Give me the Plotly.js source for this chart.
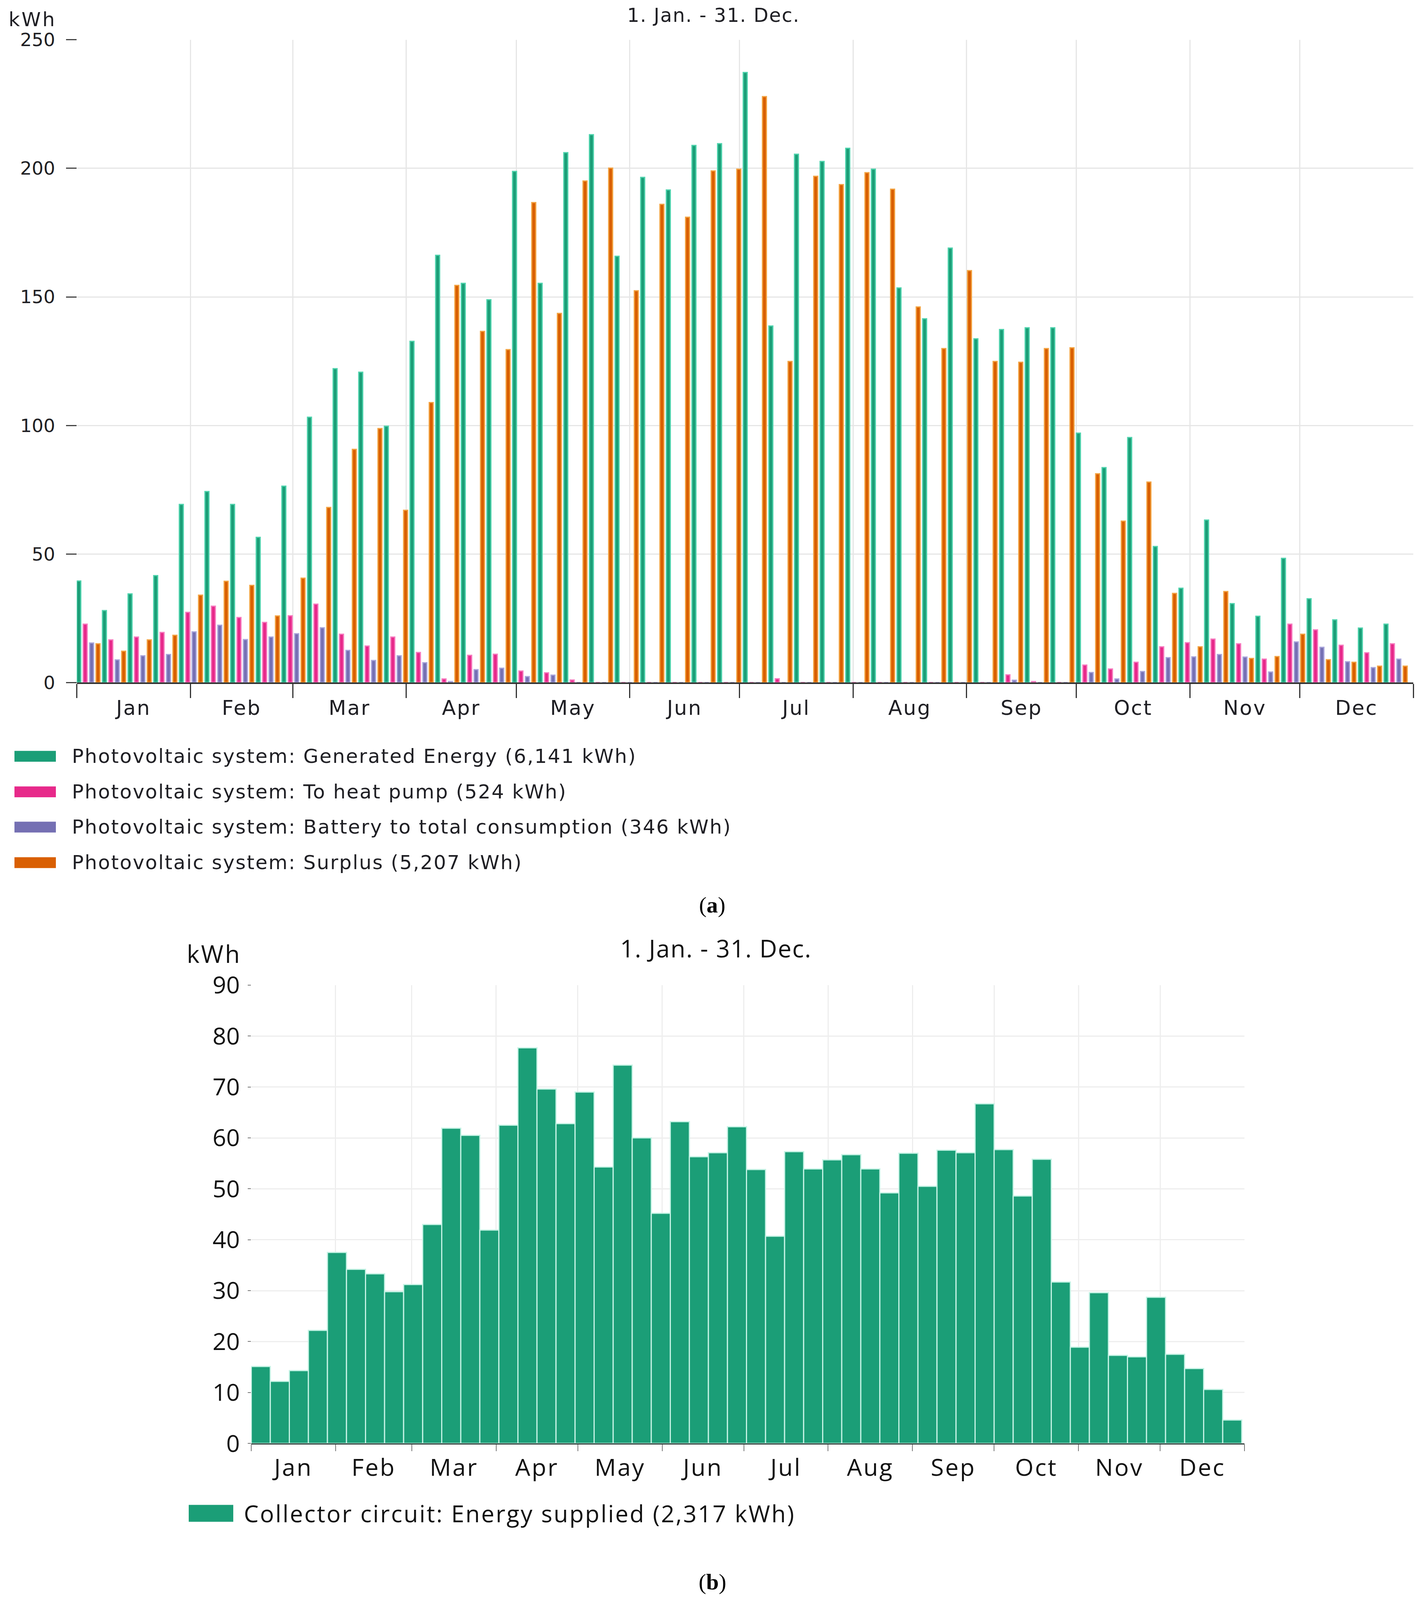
<!DOCTYPE html>
<html>
<head>
<meta charset="utf-8">
<script src="https://cdn.plot.ly/plotly-3.0.1.min.js"></script>
<style>
  html, body { margin: 0; padding: 0; background: #ffffff; overflow: hidden; }
  .xtick text { letter-spacing: 3px; }
  .x2tick text { letter-spacing: 3.5px; }
</style>
</head>
<body>
<div id="chart"></div>
<script>
// ---------------- DATA ----------------
const weekStarts = [
  '2018-01-01','2018-01-08','2018-01-15','2018-01-22','2018-01-29',
  '2018-02-05','2018-02-12','2018-02-19','2018-02-26',
  '2018-03-05','2018-03-12','2018-03-19','2018-03-26',
  '2018-04-02','2018-04-09','2018-04-16','2018-04-23','2018-04-30',
  '2018-05-07','2018-05-14','2018-05-21','2018-05-28',
  '2018-06-04','2018-06-11','2018-06-18','2018-06-25',
  '2018-07-02','2018-07-09','2018-07-16','2018-07-23','2018-07-30',
  '2018-08-06','2018-08-13','2018-08-20','2018-08-27',
  '2018-09-03','2018-09-10','2018-09-17','2018-09-24',
  '2018-10-01','2018-10-08','2018-10-15','2018-10-22','2018-10-29',
  '2018-11-05','2018-11-12','2018-11-19','2018-11-26',
  '2018-12-03','2018-12-10','2018-12-17','2018-12-24'
];

// (a) Photovoltaic system, weekly kWh
const generatedEnergy = [
  39.5, 28.0, 34.5, 41.6, 69.3, 74.3, 69.3, 56.5, 76.4, 103.2,
  122.1, 120.7, 99.7, 132.7, 166.2, 155.3, 148.9, 198.8, 155.3, 206.1,
  213.1, 165.8, 196.5, 191.6, 208.9, 209.6, 237.3, 138.7, 205.5, 202.7,
  207.8, 199.7, 153.5, 141.5, 169.0, 133.7, 137.3, 138.0, 138.0, 97.0,
  83.6, 95.3, 52.9, 36.7, 63.2, 30.7, 25.8, 48.3, 32.6, 24.4,
  21.2, 22.7
];
const toHeatPump = [
  22.7, 16.6, 17.7, 19.5, 27.3, 29.7, 25.3, 23.4, 26.0, 30.5,
  18.8, 14.2, 17.7, 11.7, 1.4, 10.6, 11.0, 4.5, 3.8, 1.0,
  0, 0, 0, 0, 0, 0, 0, 1.5, 0, 0,
  0, 0, 0, 0, 0, 0, 3.0, 0.4, 0, 6.8,
  5.3, 7.9, 13.9, 15.5, 16.9, 15.1, 9.1, 22.7, 20.5, 14.5,
  11.6, 15.1
];
const batteryToConsumption = [
  15.4, 8.8, 10.4, 10.9, 19.7, 22.3, 16.7, 17.7, 19.0, 21.3,
  12.5, 8.6, 10.4, 7.7, 0.4, 5.0, 5.6, 2.3, 2.9, 0,
  0, 0, 0, 0, 0, 0, 0, 0, 0, 0,
  0, 0, 0, 0, 0, 0, 0.9, 0, 0, 3.9,
  1.4, 4.3, 9.7, 10.0, 10.9, 9.9, 4.1, 15.8, 13.7, 8.1,
  5.8, 9.1
];
const surplus = [
  15.1, 12.2, 16.6, 18.4, 34.0, 39.4, 37.8, 25.9, 40.6, 68.1,
  90.7, 98.8, 67.0, 108.9, 154.5, 136.6, 129.5, 186.7, 143.6, 195.1,
  200.1, 152.4, 186.0, 181.0, 199.0, 199.7, 227.9, 124.9, 196.9, 193.7,
  198.3, 191.9, 146.1, 129.9, 160.2, 124.9, 124.6, 129.9, 130.2, 81.2,
  62.8, 78.0, 34.7, 13.9, 35.4, 9.4, 10.1, 18.8, 8.9, 7.9,
  6.4, 6.4
];

// (b) Collector circuit, weekly kWh
const collectorEnergy = [
  15.1, 12.2, 14.3, 22.2, 37.5, 34.2, 33.3, 29.8, 31.2, 43.0,
  61.9, 60.5, 41.9, 62.5, 77.7, 69.6, 62.8, 69.0, 54.3, 74.3,
  60.0, 45.2, 63.2, 56.3, 57.1, 62.2, 53.8, 40.7, 57.3, 53.9,
  55.7, 56.7, 53.9, 49.2, 57.0, 50.5, 57.6, 57.1, 66.7, 57.7,
  48.6, 55.8, 31.7, 18.9, 29.6, 17.3, 17.0, 28.7, 17.5, 14.7,
  10.6, 4.6
];

const seriesNamesA = [
  'Photovoltaic system: Generated Energy (6,141 kWh)',
  'Photovoltaic system: To heat pump (524 kWh)',
  'Photovoltaic system: Battery to total consumption (346 kWh)',
  'Photovoltaic system: Surplus (5,207 kWh)'
];
const seriesNameB = 'Collector circuit: Energy supplied (2,317 kWh)';
const chartTitle = '1. Jan. - 31. Dec.';
const unitLabel = 'kWh';

// ---------------- STYLE / LAYOUT ----------------
// Reference frame is 3647 x 4726; the drawing is fitted to the real viewport.
const W = 3647, H = 4726;
const VW = window.innerWidth > 0 ? window.innerWidth : W;
const VH = window.innerHeight > 0 ? Math.min(window.innerHeight, H) : H;
const sx = VW / W, sy = VH / H, fs = Math.sqrt(sx * sy);
document.getElementById('chart').style.width = VW + 'px';
document.getElementById('chart').style.height = VH + 'px';

const px = v => v / W;
const py = v => 1 - v / H;
const DAY = 86400000;
const spaced = (t, ls) => '<span style="letter-spacing:' + ls + 'px">' + t + '</span>';

const colorsA = ['#1b9e77', '#e7298a', '#7570b3', '#d95f02'];
const edgeA = ['#4fd3ad', '#f77cc0', '#aaa6dc', '#f3a443'];
const offsetsA = [0, 1.75, 3.5, 5.25];
const seriesA = [generatedEnergy, toHeatPump, batteryToConsumption, surplus];

const fA = s => ({ family: 'DejaVu Sans, sans-serif', size: Math.round(s * fs), color: '#1f1f24' });
const fB = s => ({ family: 'Open Sans, sans-serif', size: Math.round(s * fs), color: '#111111' });
const fSerif = s => ({ family: 'Liberation Serif, serif', size: Math.round(s * fs), color: '#000000' });

const traces = seriesA.map((vals, i) => ({
  type: 'bar',
  name: seriesNamesA[i],
  x: weekStarts,
  y: vals,
  xaxis: 'x',
  yaxis: 'y',
  offset: offsetsA[i] * DAY,
  width: 1.1 * DAY,
  marker: { color: colorsA[i], line: { color: edgeA[i], width: 3 } },
  hoverinfo: 'x+y'
}));

traces.push({
  type: 'bar',
  name: seriesNameB,
  x: weekStarts,
  y: collectorEnergy,
  xaxis: 'x2',
  yaxis: 'y2',
  offset: 0,
  width: 7 * DAY,
  marker: { color: '#1b9e77', line: { color: '#c4f2e4', width: 3 } },
  hoverinfo: 'x+y'
});

const shapes = [];
const annotations = [];

// Legend (a)
const legendYA = [2234, 2339, 2443, 2548];
seriesNamesA.forEach((name, i) => {
  shapes.push({
    type: 'rect', xref: 'paper', yref: 'paper',
    x0: px(37), x1: px(143), y0: py(legendYA[i] + 16), y1: py(legendYA[i] - 16),
    fillcolor: colorsA[i], line: { width: 0 }
  });
  annotations.push({
    xref: 'paper', yref: 'paper', x: px(182), y: py(legendYA[i]),
    xanchor: 'left', yanchor: 'middle', text: spaced(name, 2.6), showarrow: false, font: fA(54)
  });
});

// Legend (b)
shapes.push({
  type: 'rect', xref: 'paper', yref: 'paper',
  x0: px(483), x1: px(597), y0: py(4495), y1: py(4445),
  fillcolor: '#1b9e77', line: { width: 0 }
});
annotations.push({
  xref: 'paper', yref: 'paper', x: px(622), y: py(4470),
  xanchor: 'left', yanchor: 'middle', text: spaced(seriesNameB, 3.4), showarrow: false, font: fB(64)
});

// Titles & unit labels
annotations.push(
  { xref: 'paper', yref: 'paper', x: px(1826), y: py(45), xanchor: 'center', yanchor: 'middle',
    text: spaced(chartTitle, 2), showarrow: false, font: fA(53) },
  { xref: 'paper', yref: 'paper', x: px(146), y: py(58), xanchor: 'right', yanchor: 'middle',
    text: spaced(unitLabel, 4), showarrow: false, font: fA(54) },
  { xref: 'paper', yref: 'paper', x: px(1832), y: py(2800), xanchor: 'center', yanchor: 'middle',
    text: spaced(chartTitle, 2), showarrow: false, font: fB(67) },
  { xref: 'paper', yref: 'paper', x: px(548), y: py(2817), xanchor: 'center', yanchor: 'middle',
    text: spaced(unitLabel, 4), showarrow: false, font: fB(67) },
  { xref: 'paper', yref: 'paper', x: px(1823), y: py(2673), xanchor: 'center', yanchor: 'middle',
    text: '(<b>a</b>)', showarrow: false, font: fSerif(62) },
  { xref: 'paper', yref: 'paper', x: px(1823), y: py(4672), xanchor: 'center', yanchor: 'middle',
    text: '(<b>b</b>)', showarrow: false, font: fSerif(62) }
);

const layout = {
  width: VW, height: VH,
  margin: { l: 0, r: 0, t: 0, b: 0 },
  paper_bgcolor: '#ffffff', plot_bgcolor: '#ffffff',
  showlegend: false,
  barmode: 'overlay',
  xaxis: {
    domain: [px(196.5), px(3617)], anchor: 'y', type: 'date',
    range: ['2018-01-01', '2019-01-01'],
    tick0: '2018-01-01', dtick: 'M1', ticklabelmode: 'period', tickformat: '%b',
    showgrid: true, gridcolor: '#e6e6e6', gridwidth: 3,
    showline: true, linecolor: '#333333', linewidth: 4,
    ticks: 'outside', ticklen: Math.round(42 * sy), tickwidth: 3, tickcolor: '#333333',
    ticklabelstandoff: -20,
    tickfont: fA(56), zeroline: false
  },
  yaxis: {
    domain: [py(2016), py(117.5)], anchor: 'x',
    range: [0, 250], tick0: 0, dtick: 50,
    showgrid: true, gridcolor: '#e6e6e6', gridwidth: 3,
    zeroline: false, showline: false,
    ticks: 'outside', ticklen: Math.round(27 * sx), tickwidth: 3, tickcolor: '#444444',
    ticklabelstandoff: 18, tickfont: fA(50)
  },
  xaxis2: {
    domain: [px(643), px(3185)], anchor: 'y2', type: 'date',
    range: ['2018-01-01', '2019-01-01'],
    tick0: '2018-01-01', dtick: 'M1', ticklabelmode: 'period', tickformat: '%b',
    showgrid: true, gridcolor: '#eeeeee', gridwidth: 3,
    showline: true, linecolor: '#2f3f3a', linewidth: 3,
    ticks: 'outside', ticklen: Math.round(20 * sy), tickwidth: 2, tickcolor: '#777777',
    ticklabelstandoff: -10,
    tickfont: fB(66), zeroline: false
  },
  yaxis2: {
    domain: [py(4263.5), py(2910)], anchor: 'x2',
    range: [0, 90], tick0: 0, dtick: 10,
    showgrid: true, gridcolor: '#eeeeee', gridwidth: 3,
    zeroline: false, showline: false,
    ticks: 'outside', ticklen: Math.round(8 * sx), tickwidth: 2, tickcolor: '#777777',
    ticklabelstandoff: 8, tickfont: fB(66)
  },
  shapes: shapes,
  annotations: annotations
};

Plotly.newPlot('chart', traces, layout, { staticPlot: true, displayModeBar: false });
</script>
</body>
</html>
